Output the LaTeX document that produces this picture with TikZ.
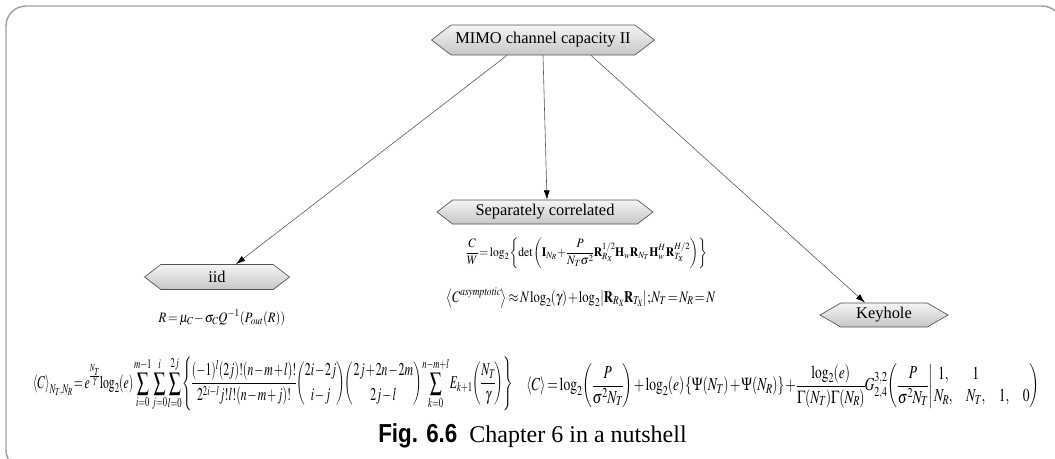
\documentclass[tikz,border=0pt]{standalone}
\usepackage{amsmath}
\usepackage{mathptmx}
\usepackage{fontspec}
\setmainfont{Liberation Serif}
\setsansfont{Liberation Sans}
\usetikzlibrary{shapes.symbols,arrows.meta,calc}
\newcommand{\tightmath}{\thinmuskip=1mu\medmuskip=1.5mu\thickmuskip=2.5mu\nulldelimiterspace=0pt\scriptspace=0pt}
\begin{document}
\begin{tikzpicture}[x=0.75pt,y=-0.75pt,
  hexbox/.style={shape=signal, signal to=west and east, draw=gray!65!black, line width=0.5pt,
    top color=gray!8, bottom color=gray!45, inner sep=0pt,
    font=\fontsize{12.3}{14}\selectfont},
  arr/.style={draw=gray!70!black, line width=0.45pt, -{Latex[length=7pt,width=4.5pt,color=black]}},
  frm/.style={draw=gray!75, line width=1.1pt, rounded corners=15pt},
  formula/.style={inner sep=0pt, anchor=center, execute at begin node=\tightmath}]
\useasboundingbox (0,0) rectangle (1055,458);
\begin{scope}
\clip (0,0) rectangle (1055,458);
\draw[frm] (6,6) rectangle (1062,470);
\end{scope}
% nodes
\node[hexbox, minimum width=223*0.75pt, minimum height=30*0.75pt, signal pointer angle=75] (mimo) at (543,40) {MIMO channel capacity II};
\node[hexbox, minimum width=216*0.75pt, minimum height=24*0.75pt, signal pointer angle=75] (sep) at (545,212) {Separately correlated};
\node[hexbox, minimum width=145*0.75pt, minimum height=25*0.75pt, signal pointer angle=75] (iid) at (217,277) {iid};
\node[hexbox, minimum width=128*0.75pt, minimum height=24*0.75pt, signal pointer angle=60] (key) at (884,315) {Keyhole};
% connectors
\draw[arr] ($(mimo.south)+(-36,0)$) -- ($(iid.north)+(19,0)$);
\draw[arr] (mimo.south) -- ($(sep.north)+(2,0)$);
\draw[arr] ($(mimo.south)+(48,0)$) -- ($(key.north)+(-19,0)$);
% formulas
\node[formula] (f1) at (587,253) {\resizebox*{180pt}{23pt}{$\displaystyle \frac{C}{W}=\log_2\left\{\det\left(\mathbf{I}_{N_R}+\frac{P}{N_T\sigma^2}\,\mathbf{R}^{1/2}_{R_X}\mathbf{H}_w\mathbf{R}_{N_T}\,\mathbf{H}_w^H\,\mathbf{R}^{H/2}_{T_X}\right)\right\}$}};
\node[formula] (f2) at (581,298) {\resizebox*{202pt}{15pt}{$\displaystyle \left\langle C^{\mathit{asymptotic}}\right\rangle\approx N\log_2(\gamma)+\log_2\left|\mathbf{R}_{R_X}\mathbf{R}_{T_X}\right|;N_T=N_R=N$}};
\node[formula] (f3) at (222,318) {\resizebox*{95pt}{12.5pt}{$\displaystyle R=\mu_C-\sigma_C Q^{-1}\left(P_{out}(R)\right)$}};
\node[formula] (f4) at (273,384) {\resizebox*{360pt}{41pt}{$\displaystyle \left\langle C\right\rangle_{N_T,N_R}=e^{\frac{N_T}{\gamma}}\log_2(e)\sum_{i=0}^{m-1}\sum_{j=0}^{i}\sum_{l=0}^{2j}\left\{\frac{(-1)^l(2j)!(n-m+l)!}{2^{2i-l}j!l!(n-m+j)!}\binom{2i-2j}{i-j}\binom{2j+2n-2m}{2j-l}\sum_{k=0}^{n-m+l}E_{k+1}\left(\frac{N_T}{\gamma}\right)\right\}$}};
\node[formula] (f5) at (783,386) {\resizebox*{385pt}{33pt}{$\displaystyle \left\langle C\right\rangle=\log_2\left(\frac{P}{\sigma^2N_T}\right)+\log_2(e)\left\{\Psi(N_T)+\Psi(N_R)\right\}+\frac{\log_2(e)}{\Gamma(N_T)\Gamma(N_R)}G^{3,2}_{2,4}\left(\frac{P}{\sigma^2N_T}\,\middle|\,\begin{matrix}1, & 1 & & \\ N_R, & N_T, & 1, & 0\end{matrix}\right)$}};
% caption
\node[anchor=west, inner sep=0pt] (cap) at (378,436) {\fontsize{19.5}{22}\selectfont\sffamily\bfseries\scalebox{0.86}[1]{Fig. 6.6}\hspace{9pt}\fontsize{18}{22}\selectfont\rmfamily\mdseries Chapter 6 in a nutshell};
\end{tikzpicture}
\end{document}
